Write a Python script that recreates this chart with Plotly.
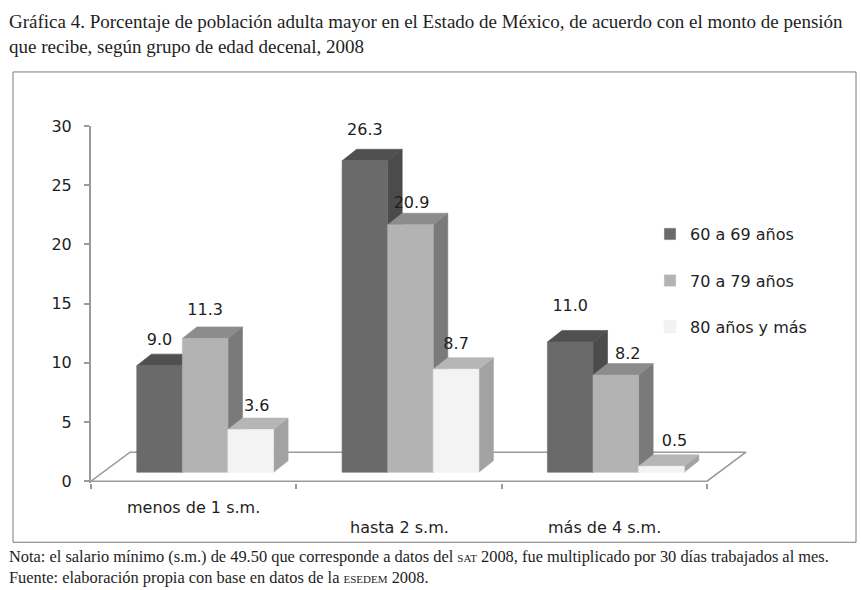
import plotly.graph_objects as go

# ---------------- data ----------------
categories = ["menos de 1 s.m.", "hasta 2 s.m.", "más de 4 s.m."]
series_names = ["60 a 69 años", "70 a 79 años", "80 años y más"]
s60_69 = [9.0, 26.3, 11.0]
s70_79 = [11.3, 20.9, 8.2]
s80_mas = [3.6, 8.7, 0.5]
y_ticks = [0, 5, 10, 15, 20, 25, 30]

title_lines = ["Gráfica 4. Porcentaje de población adulta mayor en el Estado de México, "
               "de acuerdo con el monto de pensión",
               "que recibe, según grupo de edad decenal, 2008"]
note_lines = ["Nota: el salario mínimo (s.m.) de 49.50 que corresponde a datos del "
              "<span style='font-size:11px'>SAT</span> 2008, fue multiplicado por 30 días trabajados al mes.",
              "Fuente: elaboración propia con base en datos de la "
              "<span style='font-size:11px'>ESEDEM</span> 2008."]

# ---------------- styles ----------------
front_colors = ["#6a6a6a", "#b3b3b3", "#f3f3f4"]
side_colors = ["#4b4b4b", "#7a7a7a", "#a2a2a2"]
top_colors = ["#505050", "#8c8c8c", "#b6b6b6"]
axis_gray = "#9a9a9a"
text_color = "#1e1e1e"
SANS = "DejaVu Sans"
SERIF = "Liberation Serif"
# small per-label nudges (px, right / up) of the value labels, as placed in the original
label_nudge_px = [[(0, 1), (0, 3), (6, -1)],
                  [(0, 6), (1, -3), (0, 0)],
                  [(0, 11), (12, -4), (13, 0)]]

W_PX, H_PX = 861, 590
# plot-area geometry in pixels
X0_PX, X3_PX = 91.0, 707.0      # x=0 and x=3 (category boundaries)
Y0_PX, Y30_PX = 481.0, 126.0    # y=0 and y=30
px_x = (X3_PX - X0_PX) / 3.0    # px per category unit
px_y = (Y0_PX - Y30_PX) / 30.0  # px per value unit

x_min, x_max = 0.0, (752 - X0_PX) / px_x
y_min, y_max = -0.15, 30.0
L = X0_PX
R = X0_PX + x_max * px_x
T = Y30_PX
B = Y0_PX - y_min * px_y
PW, PH = R - L, B - T


def ux(p):
    return p / px_x


def uy(p):
    return p / px_y


def paper_x(p):
    return (p - L) / PW


def paper_y(q):
    return (B - q) / PH


# 3D geometry (in px, converted to data units)
bar_w = ux(45.6)
gap_half = (1 - 3 * bar_w) / 2
shift_x = ux(11.5)
base_y = uy(9.0)
depth_x, depth_y = ux(14.5), uy(11.5)
floor_dx, floor_dy = ux(39.0), uy(29.0)
label_off = uy(24.0)

fig = go.Figure()

# floor
fx = [0, 3, 3 + floor_dx, floor_dx, 0]
fy = [0, 0, floor_dy, floor_dy, 0]
fig.add_trace(go.Scatter(x=fx, y=fy, mode="lines", line=dict(color=axis_gray, width=1.6),
                         hoverinfo="skip", showlegend=False))

series = [s60_69, s70_79, s80_mas]


def poly(xs, ys, color):
    fig.add_trace(go.Scatter(x=xs + [xs[0]], y=ys + [ys[0]], mode="lines", fill="toself",
                             fillcolor=color, line=dict(color=color, width=0.6),
                             hoverinfo="skip", showlegend=False))


lab_x, lab_y, lab_t = [], [], []
for i in range(len(categories)):
    for j, vals in enumerate(series):
        v = vals[i]
        l = i + gap_half + shift_x + j * bar_w
        r = l + bar_w
        b = base_y
        t = b + v
        poly([r, r + depth_x, r + depth_x, r], [b, b + depth_y, t + depth_y, t], side_colors[j])
        poly([l, r, r + depth_x, l + depth_x], [t, t, t + depth_y, t + depth_y], top_colors[j])
        poly([l, r, r, l], [b, b, t, t], front_colors[j])
        ndx, ndy = label_nudge_px[i][j]
        lab_x.append((l + r) / 2 + ux(ndx))
        lab_y.append(t + label_off + uy(ndy))
        lab_t.append(f"{v:.1f}")

fig.add_trace(go.Scatter(x=lab_x, y=lab_y, text=lab_t, mode="text", textposition="middle center",
                         textfont=dict(family=SANS, size=16, color=text_color),
                         hoverinfo="skip", showlegend=False, cliponaxis=False))

# legend entries (one legend per row for exact spacing)
legend_rows_px = [234, 280.5, 326.5]
legend_keys = ["legend", "legend2", "legend3"]
for j, name in enumerate(series_names):
    fig.add_trace(go.Bar(x=[None], y=[None], name=name, marker=dict(color=front_colors[j]),
                         legend=legend_keys[j], showlegend=True))

legend_common = dict(font=dict(family=SANS, size=16, color=text_color), bgcolor="rgba(0,0,0,0)",
                     xanchor="left", yanchor="middle", borderwidth=0, itemwidth=30)

layout_legends = {}
for j, key in enumerate(legend_keys):
    layout_legends[key] = dict(legend_common, x=paper_x(650), y=paper_y(legend_rows_px[j]))

annotations = [
    dict(text="<br>".join(title_lines), xref="paper", yref="paper", x=paper_x(7), y=paper_y(34),
         xanchor="left", yanchor="middle", align="left", showarrow=False,
         font=dict(family=SERIF, size=19, color=text_color)),
    dict(text="<br>".join(note_lines), xref="paper", yref="paper", x=paper_x(7), y=paper_y(566.5),
         xanchor="left", yanchor="middle", align="left", showarrow=False,
         font=dict(family=SERIF, size=16.4, color=text_color)),
]
cat_label_y_px = [507, 527, 527]
for i, c in enumerate(categories):
    annotations.append(dict(text=c, xref="x", yref="paper", x=i + 0.5, y=paper_y(cat_label_y_px[i]),
                            xanchor="center", yanchor="middle", showarrow=False,
                            font=dict(family=SANS, size=16, color=text_color)))

fig.update_layout(
    width=W_PX, height=H_PX,
    margin=dict(l=L, r=W_PX - R, t=T, b=H_PX - B, pad=0),
    paper_bgcolor="white", plot_bgcolor="white",
    xaxis=dict(range=[x_min, x_max], showgrid=False, zeroline=False, showline=False,
               tickmode="array", tickvals=[0, 1, 2, 3], ticks="outside", ticklen=5,
               tickcolor=axis_gray, tickwidth=1.5, showticklabels=False, fixedrange=True),
    yaxis=dict(range=[y_min, y_max], showgrid=False, zeroline=False, showline=True,
               linecolor=axis_gray, linewidth=2, tickmode="array", tickvals=y_ticks,
               ticks="outside", ticklen=5, tickcolor=axis_gray, tickwidth=1.5,
               tickfont=dict(family=SANS, size=16, color=text_color), ticklabelstandoff=9,
               fixedrange=True),
    annotations=annotations,
    shapes=[dict(type="rect", xref="paper", yref="paper", x0=paper_x(13), x1=paper_x(856),
                 y0=paper_y(542), y1=paper_y(72), line=dict(color="#7a7a7a", width=1),
                 layer="below")],
    **layout_legends,
)

fig.write_html("out.html", config={"displayModeBar": False},
               post_script="document.body.style.margin='0';document.body.style.overflow='hidden';")
